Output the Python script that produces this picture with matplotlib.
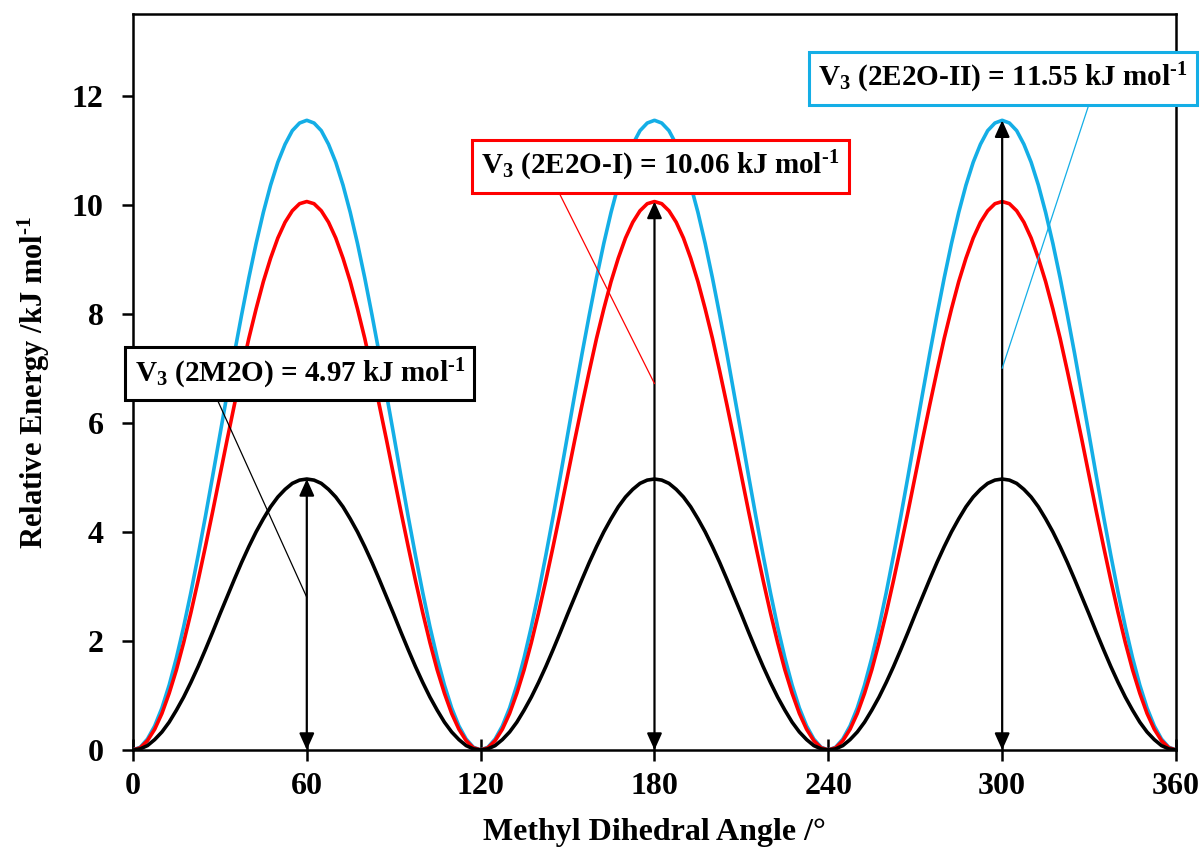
import matplotlib
matplotlib.use('Agg')
import matplotlib.pyplot as plt
import numpy as np

# dihedral angle, 2.5 degree steps
angle = list(np.arange(0, 360.1, 2.5))

# rising half of one 120 degree period (0..60 deg)
m2o_half = [0, 0.02, 0.08, 0.19, 0.33, 0.51, 0.73, 0.97, 1.24, 1.53, 1.84, 2.16,
            2.49, 2.81, 3.13, 3.44, 3.73, 4.00, 4.24, 4.46, 4.64, 4.78, 4.89, 4.95, 4.97]
e2o_i_half = [0, 0.04, 0.17, 0.38, 0.67, 1.04, 1.47, 1.97, 2.52, 3.11, 3.73, 4.37,
              5.03, 5.69, 6.33, 6.95, 7.55, 8.09, 8.59, 9.02, 9.39, 9.68, 9.89, 10.02, 10.06]
e2o_ii_half = [0, 0.05, 0.20, 0.44, 0.77, 1.19, 1.69, 2.26, 2.89, 3.57, 4.28, 5.02,
               5.78, 6.53, 7.27, 7.98, 8.66, 9.29, 9.86, 10.36, 10.78, 11.11, 11.36, 11.50, 11.55]


def full_scan(half):
    # the profile is symmetric about each maximum and repeats every 120 deg
    period = half + half[-2:0:-1]
    return period * 3 + [0]


e_2m2o = full_scan(m2o_half)
e_2e2o_i = full_scan(e2o_i_half)
e_2e2o_ii = full_scan(e2o_ii_half)

barrier_angles = [60, 180, 300]
labels = [r'V$_3$ (2M2O) = 4.97 kJ mol$^{\text{-1}}$',
          r'V$_3$ (2E2O-I) = 10.06 kJ mol$^{\text{-1}}$',
          r'V$_3$ (2E2O-II) = 11.55 kJ mol$^{\text{-1}}$']

plt.rcParams['font.family'] = 'Liberation Serif'
plt.rcParams['font.weight'] = 'bold'
plt.rcParams['mathtext.fontset'] = 'custom'
plt.rcParams['mathtext.rm'] = 'Liberation Serif:bold'
plt.rcParams['mathtext.it'] = 'Liberation Serif:bold'
plt.rcParams['mathtext.bf'] = 'Liberation Serif:bold'

fig = plt.figure(figsize=(12.01, 8.48), dpi=100)
ax = fig.add_axes([0.1107, 0.1156, 0.8685, 0.8679])

blue = '#14aee6'
red = '#ff0000'
ax.plot(angle, e_2e2o_ii, color=blue, lw=2.6, zorder=3)
ax.plot(angle, e_2e2o_i, color=red, lw=2.6, zorder=4)
ax.plot(angle, e_2m2o, color='black', lw=2.6, zorder=5)

# double headed arrows for the barrier heights
peaks = [max(e_2m2o), max(e_2e2o_i), max(e_2e2o_ii)]
for x, h in zip(barrier_angles, peaks):
    ax.annotate('', xy=(x, h), xytext=(x, 0),
                arrowprops=dict(arrowstyle='<|-|>,head_length=1.0,head_width=0.45',
                                color='black', lw=1.6, shrinkA=0, shrinkB=0),
                zorder=6)

# labelled boxes with leader lines
box_pos = [(57.6, 6.9), (182.1, 10.71), (300.2, 12.32)]
leader_from = [(21.4, 7.33), (146.7, 10.26), (330, 11.85)]
leader_to = [(60, 2.8), (180, 6.72), (300, 7.0)]
edge = ['black', red, blue]
for lab, pos, p0, p1, c in zip(labels, box_pos, leader_from, leader_to, edge):
    ax.annotate('', xy=p1, xytext=p0,
                arrowprops=dict(arrowstyle='-', color=c, lw=0.9,
                                shrinkA=0, shrinkB=0), zorder=7)
    ax.text(pos[0], pos[1], lab, ha='center', va='center', fontsize=21,
            fontweight='bold', zorder=8, clip_on=False,
            bbox=dict(boxstyle='square,pad=0.32', fc='white', ec=c, lw=2.2))

ax.set_xlim(0, 360)
ax.set_ylim(0, 13.5)
ax.set_xticks(range(0, 361, 60))
ax.set_yticks(range(0, 13, 2))
ax.tick_params(axis='x', direction='inout', length=16, width=1.8, pad=8, labelsize=23)
ax.tick_params(axis='y', direction='out', length=8, width=1.8, pad=13, labelsize=23)
for s in ax.spines.values():
    s.set_linewidth(1.8)

ax.set_xlabel('Methyl Dihedral Angle /\u00b0', fontsize=23, fontweight='bold', labelpad=12)
ax.set_ylabel(r'Relative Energy /kJ mol$^{\text{-1}}$', fontsize=22, fontweight='bold', labelpad=14)

fig.savefig('out.png', dpi=100)
